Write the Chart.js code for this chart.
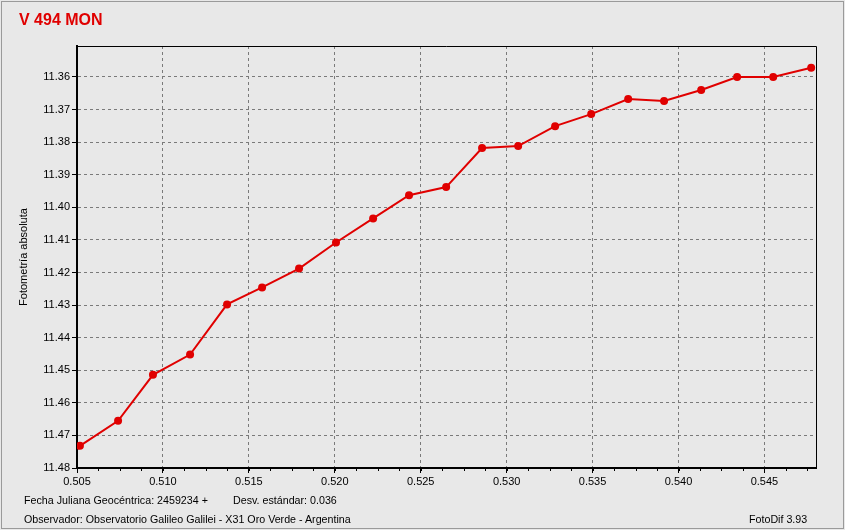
<!DOCTYPE html>
<html>
<head>
<meta charset="utf-8">
<script src="https://cdn.jsdelivr.net/npm/chart.js@4/dist/chart.umd.min.js"></script>
<style>
  body { margin:0; background:#e8e8e8; }
  #wrap { position:relative; width:845px; height:530px; background:#e8e8e8; overflow:hidden; }
  #frame { position:absolute; left:1px; top:1px; width:841px; height:526px; border:1px solid #9a9a9a; pointer-events:none; }
  .txt { position:absolute; font-family:"Liberation Sans", Arial, sans-serif; font-size:10.7px; line-height:13px; color:#000; white-space:nowrap; }
  #title { position:absolute; left:19px; top:10px; font-family:"Liberation Sans", Arial, sans-serif; font-weight:bold; font-size:16px; line-height:20px; color:#e00000; }
</style>
</head>
<body>
<div id="wrap">
  <canvas id="myChart" width="845" height="530"></canvas>
  <div id="title">V 494 MON</div>
  <div class="txt" style="left:24px; top:494px;">Fecha Juliana Geocéntrica: 2459234 +</div>
  <div class="txt" style="left:233px; top:494px;">Desv. estándar: 0.036</div>
  <div class="txt" style="left:24px; top:513px;">Observador: Observatorio Galileo Galilei - X31 Oro Verde - Argentina</div>
  <div class="txt" style="left:749px; top:513px;">FotoDif 3.93</div>
  <div id="frame"></div>
</div>
<script>
// julian date fraction (x) and magnitude (y)
let jdFrac=[0.50517,0.50739,0.50942,0.51158,0.51373,0.51577,0.51792,0.52007,0.52223,0.52432,
            0.52648,0.52857,0.53067,0.53282,0.53492,0.53707,0.53916,0.54132,0.54341,0.54551,0.54772];
let magnitude=[11.4732,11.4655,11.4514,11.4452,11.4298,11.4246,11.4188,11.4108,11.4034,11.3963,
               11.3938,11.3818,11.3812,11.3751,11.3714,11.3668,11.3674,11.3640,11.3600,11.3600,11.3572];
let xTicks=[0.505,0.510,0.515,0.520,0.525,0.530,0.535,0.540,0.545];
let yTicks=[11.36,11.37,11.38,11.39,11.40,11.41,11.42,11.43,11.44,11.45,11.46,11.47,11.48];

const tickFont={family:'"Liberation Sans", Arial, sans-serif', size:11};

// thin box on top/right + minor ticks under the x axis
const framePlugin={
    id:'framePlugin',
    afterDraw(chart){
        let ctx=chart.ctx;
        let a=chart.chartArea;
        ctx.save();
        ctx.strokeStyle='#000';
        ctx.lineWidth=1;
        ctx.beginPath();
        ctx.moveTo(a.left, a.top+0.5);
        ctx.lineTo(a.right+0.5, a.top+0.5);
        ctx.lineTo(a.right+0.5, a.bottom);
        ctx.stroke();
        let xs=chart.scales.x;
        ctx.beginPath();
        for(let v=0.505; v<0.5481; v+=0.00125){
            let px=Math.round(xs.getPixelForValue(v))+0.5;
            ctx.moveTo(px, a.bottom);
            ctx.lineTo(px, a.bottom+3);
        }
        ctx.stroke();
        ctx.restore();
    }
};

let ctx=document.getElementById('myChart').getContext('2d');
let chart=new Chart(ctx,{
    type:'line',
    data:{
        datasets:[{
            label:'V 494 MON',
            data:jdFrac.map((x,i)=>({x:x, y:magnitude[i]})),
            borderColor:'#e00000',
            backgroundColor:'#e00000',
            borderWidth:2,
            pointRadius:4,
            pointBackgroundColor:'#e00000',
            pointBorderColor:'#e00000',
            pointBorderWidth:0,
            tension:0
        }]
    },
    options:{
        responsive:false,
        animation:false,
        layout:{padding:{left:0,top:46,right:29,bottom:32}},
        plugins:{legend:{display:false},tooltip:{enabled:false}},
        scales:{
            x:{
                type:'linear',
                min:0.505,
                max:0.548,
                afterBuildTicks:(s)=>{ s.ticks=xTicks.map(v=>({value:v})); },
                afterFit:(s)=>{ s.height=30; },
                ticks:{color:'#000',font:tickFont,padding:2,maxRotation:0,autoSkip:false,
                       callback:(v)=>v.toFixed(3)},
                grid:{color:'#7a7a7a',tickColor:'#000',tickLength:5,tickBorderDash:[],lineWidth:1},
                border:{color:'#000',width:2,dash:[3,3]}
            },
            y:{
                type:'linear',
                reverse:true,
                min:11.3505,
                max:11.48,
                afterBuildTicks:(s)=>{ s.ticks=yTicks.map(v=>({value:v})); },
                afterFit:(s)=>{ s.width=77; },
                ticks:{color:'#000',font:tickFont,padding:2,autoSkip:false,
                       callback:(v)=>v.toFixed(2)},
                grid:{color:'#7a7a7a',tickColor:'#000',tickLength:5,tickBorderDash:[],lineWidth:1},
                border:{color:'#000',width:2,dash:[3,3]},
                title:{display:true,text:'Fotometría absoluta',color:'#000',font:tickFont,padding:{top:17,bottom:0}}
            }
        }
    },
    plugins:[framePlugin]
});
</script>
</body>
</html>
